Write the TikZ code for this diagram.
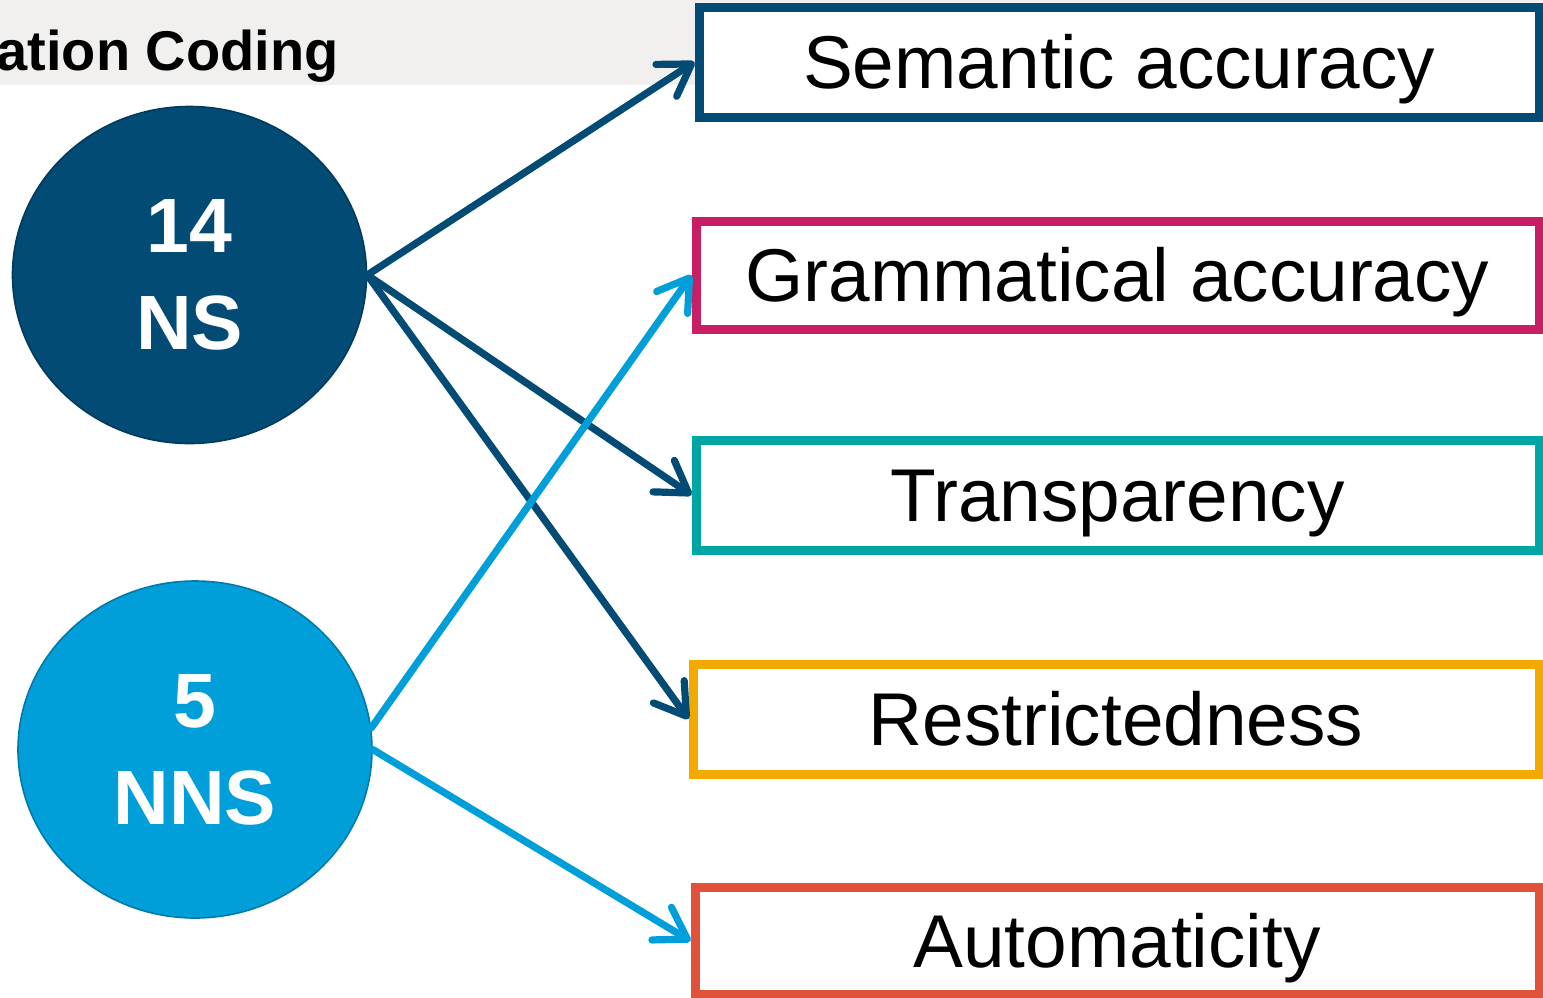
\documentclass[tikz,border=0pt]{standalone}
\usepackage{fontspec}
\setmainfont{Liberation Sans}
\usetikzlibrary{arrows.meta,shapes.geometric}
\definecolor{nsblue}{RGB}{2,75,116}
\definecolor{nsedge}{RGB}{0,58,92}
\definecolor{nnsblue}{RGB}{0,159,218}
\definecolor{nnsedge}{RGB}{0,122,170}
\definecolor{catpink}{RGB}{200,30,100}
\definecolor{catteal}{RGB}{0,166,164}
\definecolor{catorange}{RGB}{242,170,0}
\definecolor{catred}{RGB}{224,82,58}
\definecolor{bandgray}{RGB}{241,240,238}
\begin{document}
\begin{tikzpicture}[x=0.5pt,y=-0.5pt,
  cat/.style={draw, line width=4.5pt, fill=white, inner sep=0pt,
    font=\fontsize{37.4}{44}\selectfont, text height=26.5pt, text depth=0pt},
  group/.style={ellipse, minimum width=177pt, minimum height=168.5pt, inner sep=0pt,
    align=center, text=white, line width=0.8pt,
    font=\fontsize{38.5}{48.5}\selectfont\bfseries},
  link/.style={line width=3.6pt, line cap=round,
    -{Straight Barb[round,length=15pt,width=19pt]}}
]
\useasboundingbox (0,0) rectangle (1543,997);
% title band
\fill[bandgray] (0,0) rectangle (1543,85);
\node[anchor=base east, inner sep=0pt, font=\fontsize{28}{34}\selectfont\bfseries] (title) at (339,70) {ation Coding};

% speaker groups
\node[group, draw=nsedge, fill=nsblue] (ns) at (189.5,275) {14\\NS};
\node[group, draw=nnsedge, fill=nnsblue] (nns) at (195,749.5) {5\\NNS};

% coding categories
\node[cat, draw=nsblue, minimum width=420pt, minimum height=55pt] (sem) at (1119,62) {Semantic accuracy};
\node[cat, draw=catpink, minimum width=421.5pt, minimum height=54pt] (gram) at (1117.5,275) {Grammatical accuracy};
\node[cat, draw=catteal, minimum width=421.5pt, minimum height=55pt] (trans) at (1117.5,495) {Transparency};
\node[cat, draw=catorange, minimum width=423pt, minimum height=55pt] (restr) at (1116,719) {Restrictedness};
\node[cat, draw=catred, minimum width=422pt, minimum height=53.5pt] (auto) at (1117,941) {Automaticity};

% links
\draw[link, nsblue] (ns.east) -- (sem.west);
\draw[link, nsblue] (ns.east) -- (trans.west);
\draw[link, nsblue] (ns.east) -- (restr.west);
\draw[link, nnsblue] (nns.7) -- (gram.west);
\draw[link, nnsblue] (nns.east) -- (auto.west);
\end{tikzpicture}
\end{document}
